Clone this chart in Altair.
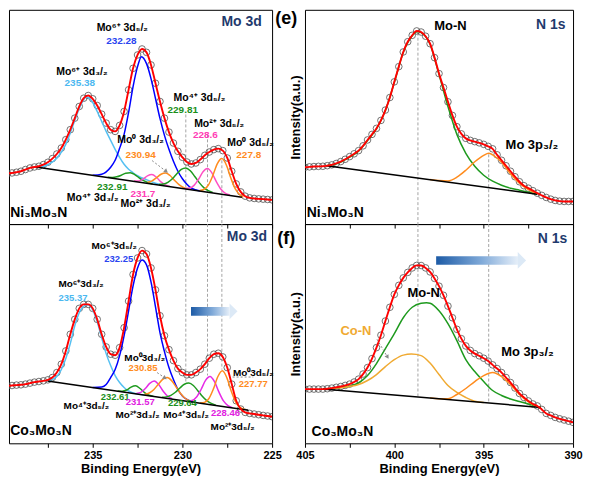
import altair as alt
import pandas as pd

FONT = "Liberation Sans"
NAVY = "#1f3a6d"
RED = "#ff0000"
LBLUE = "#55c0f2"
BLUE = "#0000ff"
GREEN = "#1e9a1e"
PINK_NI = "#ff4fc4"
PINK_CO = "#e62ae6"
ORANGE = "#ff8c1e"
CON = "#f0aa32"

# ---------------- energy grids ----------------
mo_energy = [240.0, 239.75, 239.5, 239.25, 239.0, 238.75, 238.5, 238.25, 238.0, 237.75, 237.5, 237.25,
             237.0, 236.75, 236.5, 236.25, 236.0, 235.75, 235.5, 235.25, 235.0, 234.75, 234.5, 234.25,
             234.0, 233.75, 233.5, 233.25, 233.0, 232.75, 232.5, 232.25, 232.0, 231.75, 231.5, 231.25,
             231.0, 230.75, 230.5, 230.25, 230.0, 229.75, 229.5, 229.25, 229.0, 228.75, 228.5, 228.25,
             228.0, 227.75, 227.5, 227.25, 227.0, 226.75, 226.5, 226.25, 226.0, 225.75, 225.5, 225.25, 225.0]
n_energy = [405.0, 404.75, 404.5, 404.25, 404.0, 403.75, 403.5, 403.25, 403.0, 402.75, 402.5, 402.25,
            402.0, 401.75, 401.5, 401.25, 401.0, 400.75, 400.5, 400.25, 400.0, 399.75, 399.5, 399.25,
            399.0, 398.75, 398.5, 398.25, 398.0, 397.75, 397.5, 397.25, 397.0, 396.75, 396.5, 396.25,
            396.0, 395.75, 395.5, 395.25, 395.0, 394.75, 394.5, 394.25, 394.0, 393.75, 393.5, 393.25,
            393.0, 392.75, 392.5, 392.25, 392.0, 391.75, 391.5, 391.25, 391.0, 390.75, 390.5, 390.25, 390.0]

# ---------------- measured intensities (a.u.) ----------------
ni_mo3d = [50.3, 50.7, 51.3, 52.0, 53.0, 54.7, 56.3, 57.3, 58.0, 59.7, 62.0, 65.7, 70.3, 76.3, 84.7, 94.7,
           106.3, 118.0, 126.3, 129.0, 125.7, 119.0, 110.3, 101.3, 94.7, 93.0, 99.0, 113.0, 134.7, 156.3,
           169.7, 175.7, 172.3, 159.7, 141.3, 123.0, 106.3, 92.3, 81.3, 73.0, 67.0, 62.3, 60.3, 61.3, 64.7,
           69.0, 72.3, 74.7, 75.7, 73.7, 66.3, 53.0, 40.3, 32.3, 28.0, 26.3, 25.7, 25.3, 25.0, 24.7, 24.3]
co_mo3d = [57.7, 57.7, 58.0, 58.4, 58.7, 59.4, 60.4, 61.4, 62.0, 62.7, 63.7, 66.0, 71.0, 79.4, 92.7, 109.4,
           124.4, 135.4, 139.4, 139.4, 135.4, 124.4, 109.4, 96.7, 89.4, 88.4, 96.0, 116.0, 142.7, 169.4,
           186.0, 193.4, 190.0, 176.0, 154.0, 128.0, 108.0, 94.0, 83.0, 75.0, 71.0, 68.7, 68.7, 71.0, 74.4,
           79.4, 85.4, 89.4, 90.4, 86.7, 76.0, 59.4, 42.7, 34.4, 31.0, 30.0, 29.4, 28.7, 28.0, 27.4, 26.7]
ni_n1s = [57.0, 57.4, 57.7, 57.9, 58.0, 58.6, 59.4, 60.8, 62.7, 65.0, 67.7, 70.5, 73.7, 78.5, 84.4, 90.0,
          96.0, 104.0, 114.4, 127.0, 142.7, 158.0, 172.7, 183.0, 189.4, 193.8, 192.7, 188.5, 181.0, 167.0,
          151.0, 137.0, 122.7, 109.0, 97.7, 90.5, 86.0, 84.0, 82.7, 81.5, 80.0, 78.0, 75.5, 69.5, 64.0,
          58.5, 53.0, 47.5, 42.5, 38.5, 36.0, 33.5, 31.0, 28.8, 26.7, 25.0, 23.7, 23.0, 22.7, 22.7, 22.7]
co_n1s = [54.4, 54.4, 54.4, 54.4, 54.4, 54.8, 55.4, 56.2, 57.0, 58.1, 59.4, 61.5, 64.4, 69.5, 76.0, 85.0,
          96.0, 108.5, 122.7, 136.5, 149.4, 158.5, 166.0, 171.5, 176.0, 178.5, 178.4, 176.0, 172.0, 165.5,
          157.7, 148.5, 137.7, 126.0, 114.4, 105.0, 97.7, 93.2, 90.0, 87.8, 85.4, 82.5, 78.7, 75.0, 71.0,
          66.0, 61.0, 55.5, 50.0, 46.0, 42.5, 39.5, 37.5, 34.0, 30.0, 28.0, 26.0, 24.6, 23.4, 22.2, 21.0]

# ---------------- backgrounds ----------------
ni_mo_bg_E = [238.17, 226.68]
ni_mo_bg_I = [57.3, 27.0]
co_mo_bg_E = [237.52, 226.32]
co_mo_bg_I = [62.6, 33.1]
ni_n_bg_E = [403.8, 392.0]
ni_n_bg_I = [58.6, 30.0]
co_n_bg_E = [404.0, 391.8]
co_n_bg_I = [54.4, 36.0]

# ---------------- fitted components: Ni3Mo3N Mo 3d ----------------
ni_mo6_32_E = [238.0, 237.5, 237.0, 236.5, 236.0, 235.75, 235.5, 235.38, 235.25, 235.0, 234.75, 234.5,
               234.25, 234.0, 233.75, 233.5, 233.25, 233.0, 232.75, 232.5, 232.0, 231.5, 231.0]
ni_mo6_32_I = [57.0, 59.5, 66.0, 80.0, 104.0, 116.0, 125.0, 127.5, 127.0, 122.0, 113.0, 103.0, 93.0, 84.0,
               75.0, 67.0, 60.0, 55.0, 51.5, 48.5, 44.5, 41.0, 38.6]
ni_mo6_52_E = [235.0, 234.5, 234.0, 233.75, 233.5, 233.25, 233.0, 232.75, 232.5, 232.28, 232.0, 231.75,
               231.5, 231.25, 231.0, 230.75, 230.5, 230.25, 230.0, 229.75, 229.5, 229.0]
ni_mo6_52_I = [48.9, 50.0, 57.0, 64.0, 76.0, 90.0, 112.0, 138.0, 158.0, 168.0, 161.0, 146.0, 126.0, 106.0,
               89.0, 75.0, 63.0, 53.0, 45.5, 40.0, 36.0, 33.1]
ni_mo4_32_E = [234.16, 233.91, 233.66, 233.41, 233.16, 232.91, 232.66, 232.41, 232.16, 231.91, 231.66]
ni_mo4_32_I = [46.9, 46.8, 47.4, 49.0, 51.0, 51.4, 49.7, 46.4, 43.5, 41.5, 40.3]
ni_mo2_32_E = [232.7, 232.45, 232.2, 231.95, 231.7, 231.45, 231.2, 230.95, 230.7]
ni_mo2_32_I = [43.1, 43.2, 45.0, 48.3, 49.7, 47.0, 42.3, 39.3, 37.8]
ni_mo0_32_E = [231.94, 231.69, 231.44, 231.19, 230.94, 230.69, 230.44, 230.19, 229.94, 229.69]
ni_mo0_32_I = [42.0, 43.4, 46.6, 50.0, 51.2, 48.7, 43.9, 39.5, 36.7, 35.2]
ni_mo4_52_E = [231.31, 231.06, 230.81, 230.56, 230.31, 230.06, 229.81, 229.56, 229.31, 229.06, 228.81,
               228.56, 228.31]
ni_mo4_52_I = [39.7, 40.1, 41.9, 45.5, 50.5, 54.8, 56.3, 53.5, 47.8, 41.6, 36.6, 33.5, 31.8]
ni_mo2_52_E = [229.85, 229.6, 229.35, 229.1, 228.85, 228.6, 228.35, 228.1, 227.85, 227.6, 227.35]
ni_mo2_52_I = [35.7, 36.1, 38.8, 45.0, 52.5, 55.7, 51.2, 42.3, 34.9, 30.8, 29.1]
ni_mo0_52_E = [229.05, 228.8, 228.55, 228.3, 228.05, 227.8, 227.55, 227.3, 227.05, 226.8, 226.6]
ni_mo0_52_I = [33.6, 34.7, 39.2, 48.9, 60.6, 65.7, 59.3, 46.2, 35.3, 29.4, 27.0]

# ---------------- fitted components: Co3Mo3N Mo 3d ----------------
co_mo6_32_E = [237.5, 237.0, 236.5, 236.25, 236.0, 235.75, 235.5, 235.3, 235.0, 234.75, 234.5, 234.25,
               234.0, 233.75, 233.5, 233.25, 233.0, 232.75, 232.5, 232.0]
co_mo6_32_I = [62.6, 67.0, 85.0, 100.0, 118.0, 131.0, 137.5, 139.0, 134.0, 122.0, 106.0, 90.0, 78.0, 68.0,
               61.0, 56.0, 52.5, 50.5, 49.6, 48.1]
co_mo6_52_E = [235.0, 234.5, 234.25, 234.0, 233.75, 233.5, 233.25, 233.0, 232.75, 232.5, 232.25, 232.0,
               231.75, 231.5, 231.25, 231.0, 230.75, 230.5, 230.25, 230.0, 229.75, 229.5, 229.25]
co_mo6_52_I = [56.0, 56.5, 59.0, 66.0, 74.0, 88.0, 108.0, 133.0, 158.0, 176.0, 184.0, 179.0, 162.0, 137.0,
               111.0, 92.0, 76.0, 64.0, 54.0, 47.5, 44.0, 42.0, 40.9]
co_mo4_32_E = [233.61, 233.36, 233.11, 232.86, 232.61, 232.36, 232.11, 231.86, 231.61]
co_mo4_32_I = [52.4, 52.3, 53.5, 56.4, 57.7, 55.0, 50.9, 48.3, 47.1]
co_mo2_32_E = [232.57, 232.32, 232.07, 231.82, 231.57, 231.32, 231.07, 230.82, 230.57]
co_mo2_32_I = [50.1, 51.1, 54.9, 60.2, 62.6, 58.9, 52.2, 47.2, 44.8]
co_mo0_32_E = [232.1, 231.85, 231.6, 231.35, 231.1, 230.85, 230.6, 230.35, 230.1, 229.85, 229.6]
co_mo0_32_I = [49.3, 50.5, 53.8, 59.1, 64.2, 66.0, 62.9, 56.5, 49.9, 45.2, 42.7]
co_mo4_52_E = [231.14, 230.89, 230.64, 230.39, 230.14, 229.89, 229.64, 229.39, 229.14, 228.89, 228.64,
               228.39, 228.14]
co_mo4_52_I = [46.2, 46.6, 48.1, 51.2, 55.5, 59.3, 60.4, 58.0, 52.8, 47.2, 42.8, 40.0, 38.3]
co_mo2_52_E = [229.71, 229.46, 229.21, 228.96, 228.71, 228.46, 228.21, 227.96, 227.71, 227.46, 227.21]
co_mo2_52_I = [42.4, 43.0, 46.5, 54.0, 63.1, 67.0, 61.8, 51.3, 42.5, 37.8, 35.8]
co_mo0_52_E = [229.02, 228.77, 228.52, 228.27, 228.02, 227.77, 227.52, 227.27, 227.02, 226.77, 226.52]
co_mo0_52_I = [40.5, 41.1, 45.0, 54.6, 67.0, 72.7, 65.7, 52.0, 41.1, 35.8, 33.9]

# ---------------- fitted components: N 1s ----------------
ni_mon_E = [403.8, 403.5, 403.0, 402.5, 402.0, 401.5, 401.0, 400.5, 400.0, 399.5, 399.0, 398.7, 398.5,
            398.0, 397.5, 397.0, 396.5, 396.0, 395.5, 395.0, 394.5, 394.0, 393.5, 393.0, 392.5, 392.0]
ni_mon_I = [58.6, 59.2, 62.2, 67.2, 73.2, 83.9, 95.5, 114.0, 142.2, 172.2, 189.0, 193.3, 192.2, 180.5,
            150.0, 118.0, 90.0, 71.0, 58.0, 49.0, 43.0, 39.0, 36.0, 34.0, 32.0, 30.0]
ni_mo3p_E = [398.0, 397.5, 397.0, 396.5, 396.0, 395.5, 395.0, 394.72, 394.5, 394.0, 393.5, 393.0, 392.5, 392.0]
ni_mo3p_I = [44.7, 43.6, 43.3, 47.0, 54.0, 62.5, 69.0, 71.0, 69.5, 62.0, 50.5, 41.0, 34.5, 30.0]
co_mon_E = [404.0, 403.5, 403.0, 402.5, 402.0, 401.5, 401.0, 400.5, 400.0, 399.5, 399.0, 398.5, 398.2,
            398.0, 397.5, 397.0, 396.5, 396.0, 395.5, 395.0, 394.5, 394.0, 393.5, 393.0, 392.5, 392.0, 391.8]
co_mon_I = [54.4, 55.0, 56.0, 57.5, 60.5, 68.0, 80.0, 95.0, 110.0, 126.0, 136.5, 140.5, 141.0, 140.5,
            133.0, 120.0, 103.0, 84.0, 72.0, 62.0, 53.0, 48.0, 44.5, 42.0, 39.5, 37.0, 36.0]
co_con_E = [404.0, 403.5, 403.0, 402.5, 402.0, 401.5, 401.0, 400.5, 400.0, 399.5, 399.05, 398.5, 398.0,
            397.5, 397.0, 396.5, 396.0, 395.5, 395.0]
co_con_I = [54.4, 55.0, 55.8, 57.0, 59.0, 63.0, 69.0, 77.0, 84.0, 88.5, 89.5, 88.0, 80.5, 69.0, 58.0,
            51.0, 46.0, 42.2, 40.9]
co_mo3p_E = [398.0, 397.5, 397.0, 396.5, 396.0, 395.5, 395.0, 394.5, 394.0, 393.5, 393.0, 392.5, 392.0, 391.8]
co_mo3p_I = [45.4, 44.8, 44.6, 49.0, 55.0, 62.0, 68.0, 71.0, 67.0, 59.0, 49.0, 41.5, 37.0, 36.0]

# ---------------- tick values / peak marker positions ----------------
mo_ticks = [237.5, 235.0, 232.5, 230.0, 227.5, 225.0]
n_ticks = [405.0, 402.5, 400.0, 397.5, 395.0, 392.5, 390.0]
mo_marks = [229.81, 228.6, 227.8]
n_marks = [398.68, 394.72]


def panel(xdom, ydom, w, h, ticks, bottom, ytitle, E, I, bg, comps, vlines, texts, ltexts,
          arrow=None, pointers=None):
    sx = alt.Scale(domain=xdom, nice=False, zero=False)
    sy = alt.Scale(domain=ydom, nice=False, zero=False)
    if bottom:
        xax = alt.Axis(values=ticks, labelExpr="datum.value % 5 == 0 ? datum.label : ''",
                       title="Binding Energy(eV)", labelFlush=False, tickSize=4, labelPadding=2,
                       titlePadding=2, labelOverlap=False)
    else:
        xax = alt.Axis(values=ticks, labels=False, title=None, tickSize=4)
    if ytitle:
        yax = alt.Axis(title=ytitle, labels=False, ticks=False, titlePadding=2)
    else:
        yax = None
    X = alt.X("E:Q", scale=sx, axis=xax)
    Y = alt.Y("I:Q", scale=sy, axis=yax)
    layers = []
    # dashed peak markers
    vdf = pd.DataFrame(vlines, columns=["E", "I", "I2"])
    layers.append(alt.Chart(vdf).mark_rule(color="#9a9a9a", strokeDash=[3, 2], strokeWidth=0.9)
                  .encode(x=X, y=Y, y2="I2:Q"))
    # measured data
    ddf = pd.DataFrame({"E": E, "I": I})
    layers.append(alt.Chart(ddf).mark_point(shape="circle", filled=False, size=44, color="#505050",
                                            strokeWidth=0.8, opacity=1, clip=True)
                  .encode(x=X, y=Y))
    # components
    for ce, ci, col in comps:
        cdf = pd.DataFrame({"E": ce, "I": ci})
        layers.append(alt.Chart(cdf).mark_line(color=col, strokeWidth=1.5, interpolate="monotone", clip=True)
                      .encode(x=X, y=Y))
    # background
    bdf = pd.DataFrame({"E": bg[0], "I": bg[1]})
    layers.append(alt.Chart(bdf).mark_line(color="black", strokeWidth=1.5, clip=True).encode(x=X, y=Y))
    # envelope
    layers.append(alt.Chart(ddf).mark_line(color=RED, strokeWidth=1.9, interpolate="monotone", clip=True)
                  .encode(x=X, y=Y))
    # pointers
    if pointers:
        pdf = pd.DataFrame(pointers, columns=["E", "I", "E2", "I2", "a", "head"])
        layers.append(alt.Chart(pdf).mark_rule(color="#8a8a8a", strokeDash=[2, 2], strokeWidth=1)
                      .encode(x=X, y=Y, x2="E2:Q", y2="I2:Q"))
        hdf = pdf[pdf["head"] == 1][["E2", "I2", "a"]].rename(columns={"E2": "E", "I2": "I"})
        layers.append(alt.Chart(hdf).mark_point(shape="triangle-right", filled=True, color="#8a8a8a",
                                                size=22, opacity=1)
                      .encode(x=X, y=Y, angle=alt.Angle("a:Q", scale=None)))
    # gradient arrow
    if arrow:
        rdf = pd.DataFrame([arrow[0]], columns=["E", "E2", "I", "I2"])
        grad = alt.Gradient(gradient="linear",
                            stops=[alt.GradientStop(color="#1d5ba6", offset=0),
                                   alt.GradientStop(color="#7fa9d8", offset=0.55),
                                   alt.GradientStop(color="#e6eff9", offset=1)],
                            x1=0, x2=1, y1=0, y2=0)
        layers.append(alt.Chart(rdf).mark_rect(color=grad)
                      .encode(x=X, x2="E2:Q", y=Y, y2="I2:Q"))
        adf = pd.DataFrame([arrow[1]], columns=["E", "I"])
        layers.append(alt.Chart(adf).mark_point(shape="M -0.5 -1 L 0.5 0 L -0.5 1 Z", filled=True,
                                                color="#dce9f6", size=arrow[2], opacity=1)
                      .encode(x=X, y=Y))
    # texts
    tdf = pd.DataFrame(texts, columns=["t", "E", "I", "c", "s"])
    layers.append(alt.Chart(tdf).mark_text(font=FONT, fontWeight="bold", align="center", baseline="middle")
                  .encode(x=X, y=Y, text="t:N", color=alt.Color("c:N", scale=None),
                          size=alt.Size("s:Q", scale=None)))
    ldf = pd.DataFrame(ltexts, columns=["t", "E", "I", "c", "s"])
    layers.append(alt.Chart(ldf).mark_text(font=FONT, fontWeight="bold", align="left", baseline="middle")
                  .encode(x=X, y=Y, text="t:N", color=alt.Color("c:N", scale=None),
                          size=alt.Size("s:Q", scale=None)))
    return alt.layer(*layers).properties(width=w, height=h)


K = "black"
MO_DOM = [239.667, 225.0]
N_DOM = [405.0, 390.0]

tl = panel(MO_DOM, [0, 215], 264, 215, mo_ticks, False, None, mo_energy, ni_mo3d,
           (ni_mo_bg_E, ni_mo_bg_I),
           [(ni_mo6_32_E, ni_mo6_32_I, LBLUE), (ni_mo6_52_E, ni_mo6_52_I, BLUE),
            (ni_mo4_32_E, ni_mo4_32_I, GREEN), (ni_mo2_32_E, ni_mo2_32_I, PINK_NI),
            (ni_mo0_32_E, ni_mo0_32_I, ORANGE), (ni_mo4_52_E, ni_mo4_52_I, GREEN),
            (ni_mo2_52_E, ni_mo2_52_I, PINK_NI), (ni_mo0_52_E, ni_mo0_52_I, ORANGE)],
           [(mo_marks[0], 110, 0), (mo_marks[1], 90, 0), (mo_marks[2], 64, 0)],
           [("Mo⁶⁺ 3d₅/₂", 233.35, 197, K, 10.5), ("232.28", 233.4, 184, "#2a45f0", 10),
            ("Mo⁶⁺ 3d₃/₂", 235.6, 153, K, 10.5), ("235.38", 235.72, 142, "#4cb8f0", 10),
            ("Mo⁴⁺ 3d₅/₂", 229.05, 126, K, 10.5), ("229.81", 229.98, 114.5, "#1a8f1a", 10),
            ("Mo²⁺ 3d₅/₂", 227.95, 100, K, 10.5), ("228.6", 228.72, 89.5, "#ff3db5", 10),
            ("Mo⁰ 3d₃/₂", 232.33, 84, K, 10.5), ("230.94", 232.33, 69, "#ff8c1e", 10),
            ("Mo⁰ 3d₅/₂", 226.2, 81, K, 10.5), ("227.8", 226.3, 69, "#ff8c1e", 10),
            ("232.91", 233.91, 37, "#1a8f1a", 10), ("Mo⁴⁺ 3d₃/₂", 235.0, 26, K, 10.5),
            ("231.7", 232.2, 30.5, "#ff3db5", 10), ("Mo²⁺ 3d₃/₂", 232.05, 20, K, 10.5),
            ("Mo 3d", 226.7, 202.5, NAVY, 14)],
           [("Ni₃Mo₃N", 239.6, 11.5, K, 14)],
           pointers=[(231.69, 63.7, 230.9, 52.8, 39, 1)])

tr = panel(N_DOM, [0, 215], 269, 215, n_ticks, False, "Intensity(a.u.)", n_energy, ni_n1s,
           (ni_n_bg_E, ni_n_bg_I),
           [(ni_mon_E, ni_mon_I, GREEN), (ni_mo3p_E, ni_mo3p_I, ORANGE)],
           [(n_marks[0], 192, 0), (n_marks[1], 70, 0)],
           [("Mo-N", 396.86, 198.5, K, 13), ("N 1s", 391.25, 199.5, NAVY, 14),
            ("Mo 3p₃/₂", 392.3, 79, K, 13), ("(e)", 406.05, 205.5, K, 18)],
           [("Ni₃Mo₃N", 404.9, 11.5, K, 14)])

bl = panel(MO_DOM, [0, 220], 264, 220, mo_ticks, True, None, mo_energy, co_mo3d,
           (co_mo_bg_E, co_mo_bg_I),
           [(co_mo6_32_E, co_mo6_32_I, LBLUE), (co_mo6_52_E, co_mo6_52_I, BLUE),
            (co_mo4_32_E, co_mo4_32_I, GREEN), (co_mo2_32_E, co_mo2_32_I, PINK_CO),
            (co_mo0_32_E, co_mo0_32_I, ORANGE), (co_mo4_52_E, co_mo4_52_I, GREEN),
            (co_mo2_52_E, co_mo2_52_I, PINK_CO), (co_mo0_52_E, co_mo0_52_I, ORANGE)],
           [(mo_marks[0], 220, 60), (mo_marks[1], 220, 68), (mo_marks[2], 220, 74)],
           [("Mo⁶⁺3d₅/₂", 233.8, 198, K, 10), ("232.25", 233.55, 184.5, "#2a45f0", 9.5),
            ("Mo⁶⁺3d₃/₂", 235.65, 159.5, K, 10), ("235.37", 236.1, 145.5, "#4cb8f0", 9.5),
            ("Mo⁰3d₃/₂", 232.1, 86, K, 10), ("230.85", 232.2, 76, "#ff8c1e", 9.5),
            ("Mo⁰3d₅/₂", 226.05, 71, K, 10), ("227.77", 226.05, 59.5, "#ff8c1e", 9.5),
            ("232.61", 233.75, 46.5, "#1a8f1a", 9.5), ("Mo⁴⁺3d₅/₂", 235.35, 37.5, K, 10),
            ("231.57", 232.35, 41, "#e020e0", 9.5), ("Mo²⁺3d₃/₂", 232.5, 28.5, K, 10),
            ("229.64", 230.0, 40, "#1a8f1a", 9.5), ("Mo⁴⁺3d₅/₂", 229.8, 28.5, K, 10),
            ("228.46", 227.6, 30.5, "#e020e0", 9.5), ("Mo²⁺3d₅/₂", 227.2, 16, K, 10),
            ("Mo 3d", 226.4, 207, NAVY, 14)],
           [("Co₃Mo₃N", 239.6, 12, K, 14)],
           arrow=((229.52, 227.37, 127.9, 136.9), (227.15, 132.4), 256),
           pointers=[(231.41, 71.0, 230.97, 65.5, 34, 1), (227.2, 66.5, 226.05, 66.5, 0, 0)])

br = panel(N_DOM, [0, 220], 269, 220, n_ticks, True, "Intensity(a.u.)", n_energy, co_n1s,
           (co_n_bg_E, co_n_bg_I),
           [(co_mon_E, co_mon_I, GREEN), (co_con_E, co_con_I, CON), (co_mo3p_E, co_mo3p_I, ORANGE)],
           [(n_marks[0], 220, 46), (n_marks[1], 220, 40)],
           [("N 1s", 391.15, 205.5, NAVY, 14), ("Mo-N", 398.36, 151, K, 13),
            ("Co-N", 402.15, 112.5, CON, 13), ("Mo 3p₃/₂", 392.55, 91.5, K, 13),
            ("(f)", 406.05, 204.5, K, 18)],
           [("Co₃Mo₃N", 404.63, 11.5, K, 14)],
           arrow=((397.66, 393.08, 179.3, 187.6), (392.86, 183.5), 279),
           pointers=[(400.97, 104.4, 400.38, 86.5, 59, 1)])

chart = alt.concat(tl, tr, bl, br, columns=2, spacing={"row": 0, "column": 33},
                   bounds="flush", align="each").properties(
    padding={"left": 0, "top": 0, "right": 4, "bottom": 2}
).configure_view(stroke="black", strokeWidth=1).configure_axis(
    grid=False, domain=False, tickColor="black", tickWidth=1,
    labelFont=FONT, labelFontWeight="bold", labelFontSize=11, labelColor="black",
    titleFont=FONT, titleFontWeight="bold", titleFontSize=13, titleColor="black"
)

chart.save("out.html", embed_options={"renderer": "svg", "actions": False})
